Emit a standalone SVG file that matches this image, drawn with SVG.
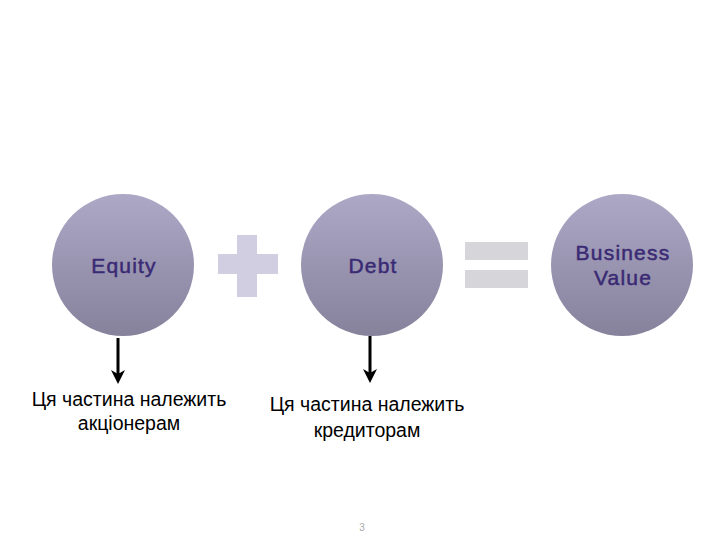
<svg xmlns="http://www.w3.org/2000/svg" width="720" height="540" viewBox="0 0 720 540">
<defs>
<linearGradient id="g" x1="0" y1="0" x2="0" y2="1">
<stop offset="0" stop-color="#aca8c6"/>
<stop offset="1" stop-color="#86829c"/>
</linearGradient>
<marker id="ah" markerWidth="14" markerHeight="14" refX="4" refY="7" orient="auto" markerUnits="userSpaceOnUse" viewBox="0 0 14 14">
<path d="M0,0 L14,7 L0,14 L4,7 z" fill="#000"/>
</marker>
<style>
.c{fill:url(#g)}
.l{font-family:"Liberation Sans",Arial,sans-serif;font-size:21px;letter-spacing:1.2px;fill:#3a2a74;stroke:#3a2a74;stroke-width:0.5;text-anchor:middle}
.t{font-family:"Liberation Sans",Arial,sans-serif;font-size:19.5px;fill:#000;text-anchor:middle}
.op{fill:#d0cee0}
.eq{fill:#d6d6da}
</style>
</defs>
<rect width="720" height="540" fill="#fff"/>
<g id="equity">
<circle class="c" cx="123" cy="265" r="71"/>
<text class="l" x="124" y="273">Equity</text>
</g>
<g id="plus">
<rect class="op" x="237" y="235" width="20" height="62"/>
<rect class="op" x="218" y="254" width="60" height="20"/>
</g>
<g id="debt">
<circle class="c" cx="372" cy="265" r="71"/>
<text class="l" x="373" y="273">Debt</text>
</g>
<g id="equals">
<rect class="eq" x="465" y="242" width="63" height="18"/>
<rect class="eq" x="465" y="270" width="63" height="18"/>
</g>
<g id="value">
<circle class="c" cx="622" cy="265" r="71"/>
<text class="l" x="623" y="260">Business</text>
<text class="l" x="623" y="285">Value</text>
</g>
<g id="connectors" stroke="#000" stroke-width="3">
<line x1="118" y1="338" x2="118" y2="374" marker-end="url(#ah)"/>
<line x1="370" y1="336" x2="370" y2="373" marker-end="url(#ah)"/>
</g>
<g id="note1">
<text class="t" x="129" y="406">Ця частина належить</text>
<text class="t" x="129" y="430">акціонерам</text>
</g>
<g id="note2">
<text class="t" x="367" y="411">Ця частина належить</text>
<text class="t" x="367" y="437">кредиторам</text>
</g>
<text x="362" y="531" font-family="Liberation Sans,Arial,sans-serif" font-size="10" fill="#aaa" text-anchor="middle">3</text>
</svg>
